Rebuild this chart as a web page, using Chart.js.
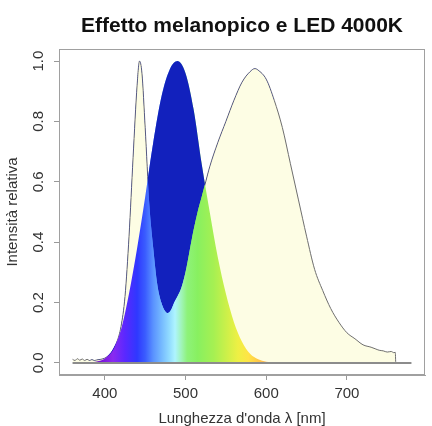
<!DOCTYPE html>
<html>
<head>
<meta charset="utf-8">
<script src="https://cdn.jsdelivr.net/npm/chart.js@4.4.1/dist/chart.umd.min.js"></script>
<style>
  html, body { margin: 0; padding: 0; background: #fff; }
  #wrap { width: 432px; height: 426px; }
</style>
</head>
<body>
<div id="wrap"><canvas id="chart" width="432" height="426"></canvas></div>
<script>
// spettro LED 4000K (nm, intensità relativa)
const ledNm = [360, 363, 366, 369, 372, 375, 378, 381, 384, 387, 390, 395, 400, 405, 410, 415, 420, 425, 430, 435, 440, 443, 446, 450, 455, 460, 465, 470, 475, 478, 482, 486, 490, 495, 500, 505, 510, 515, 520, 525, 530, 540, 550, 560, 570, 580, 586, 590, 600, 610, 620, 630, 640, 650, 660, 670, 680, 690, 700, 710, 720, 730, 735, 740, 745, 750, 755, 758, 760, 760.5];
const ledVal = [0.012, 0.008, 0.014, 0.009, 0.013, 0.008, 0.012, 0.008, 0.011, 0.008, 0.010, 0.012, 0.016, 0.025, 0.040, 0.070, 0.120, 0.220, 0.420, 0.680, 0.920, 1.000, 0.960, 0.780, 0.530, 0.380, 0.260, 0.200, 0.170, 0.165, 0.175, 0.200, 0.220, 0.250, 0.300, 0.370, 0.440, 0.500, 0.550, 0.600, 0.650, 0.730, 0.800, 0.870, 0.930, 0.965, 0.975, 0.970, 0.940, 0.870, 0.780, 0.660, 0.540, 0.420, 0.310, 0.240, 0.180, 0.135, 0.100, 0.080, 0.060, 0.052, 0.047, 0.042, 0.040, 0.036, 0.038, 0.034, 0.035, 0];

// curva di sensibilità melanopica
const melNm = [380, 390, 400, 410, 420, 430, 440, 450, 460, 470, 480, 490, 500, 510, 520, 530, 540, 550, 560, 570, 580, 590, 600, 610];
const melVal = [0.001, 0.005, 0.015, 0.045, 0.110, 0.230, 0.380, 0.550, 0.730, 0.880, 0.970, 1.000, 0.960, 0.840, 0.660, 0.500, 0.350, 0.230, 0.135, 0.070, 0.030, 0.012, 0.004, 0.001];

// linea di base
const baseNm = [360, 780];
const baseVal = [0, 0];

const xTicks = [400, 500, 600, 700];
const yTicks = [0, 0.2, 0.4, 0.6, 0.8, 1.0];

const titolo = 'Effetto melanopico e LED 4000K';

// colori dello spettro visibile (nm -> colore)
const spectrum = [
  [380, '#5a0a9a'], [395, '#7a14d8'], [410, '#8a2af0'], [425, '#5a28ff'],
  [440, '#2f38ff'], [450, '#3a5cff'], [460, '#5a92ff'], [470, '#74b8ff'],
  [480, '#92dcff'], [487, '#aef4ff'], [495, '#a0f4b8'], [502, '#8ef27a'],
  [515, '#88f060'], [535, '#a6f052'], [550, '#caf04a'], [565, '#eef044'],
  [578, '#ffe445'], [590, '#ffc848'], [600, '#ffb858']
];

const toPoints = (xs, ys) => xs.map((x, i) => ({ x, y: ys[i] }));

function rainbowFill(context) {
  const chart = context.chart;
  const area = chart.chartArea;
  if (!area) return '#88f060';
  const sx = chart.scales.x;
  const first = spectrum[0][0];
  const last = spectrum[spectrum.length - 1][0];
  const g = chart.ctx.createLinearGradient(sx.getPixelForValue(first), 0, sx.getPixelForValue(last), 0);
  spectrum.forEach(([nm, col]) => g.addColorStop((nm - first) / (last - first), col));
  return g;
}

// cornice e titolo centrato sul pannello (stile R)
const boxPlugin = {
  id: 'box',
  afterDraw(chart) {
    const { ctx, chartArea: a } = chart;
    ctx.save();
    ctx.strokeStyle = '#a0a0a0';
    ctx.lineWidth = 1;
    ctx.strokeRect(a.left + 0.5, a.top + 0.5, a.right - a.left - 1, a.bottom - a.top - 1);
    ctx.fillStyle = '#111';
    ctx.font = "bold 21px 'Liberation Sans', Arial, sans-serif";
    ctx.textAlign = 'center';
    ctx.textBaseline = 'alphabetic';
    ctx.fillText(titolo, (a.left + a.right) / 2, 31.5);
    ctx.restore();
  }
};

Chart.defaults.font.family = "'Liberation Sans', Arial, sans-serif";

new Chart(document.getElementById('chart'), {
  type: 'line',
  data: {
    datasets: [
      {
        data: toPoints(baseNm, baseVal),
        borderColor: '#8c8c8c',
        borderWidth: 2,
        pointRadius: 0,
        fill: false
      },
      {
        data: toPoints(melNm, melVal),
        borderWidth: 0,
        pointRadius: 0,
        cubicInterpolationMode: 'monotone',
        fill: { target: 3, above: '#1221bd', below: 'rgba(0,0,0,0)' }
      },
      {
        data: toPoints(melNm, melVal),
        borderWidth: 0,
        pointRadius: 0,
        cubicInterpolationMode: 'monotone',
        backgroundColor: rainbowFill,
        fill: 'origin'
      },
      {
        data: toPoints(ledNm, ledVal),
        borderColor: '#6e6e6e',
        borderWidth: 1,
        pointRadius: 0,
        cubicInterpolationMode: 'monotone',
        backgroundColor: '#fdfde4',
        fill: 'origin'
      }
    ]
  },
  options: {
    responsive: false,
    animation: false,
    devicePixelRatio: 1,
    layout: { padding: { left: 0, right: 7, top: 49, bottom: 0 } },
    plugins: {
      legend: { display: false },
      tooltip: { enabled: false },
      title: { display: false }
    },
    scales: {
      x: {
        type: 'linear',
        min: 343.2,
        max: 796.8,
        afterBuildTicks: s => { s.ticks = xTicks.map(v => ({ value: v })); },
        afterFit: s => { s.height = 51; },
        ticks: { color: '#333', font: { size: 15 }, maxRotation: 0, padding: 5 },
        grid: { drawOnChartArea: false, tickLength: 5, color: '#999' },
        border: { color: '#a0a0a0' },
        title: {
          display: true,
          text: "Lunghezza d'onda λ [nm]",
          color: '#333',
          font: { size: 15 },
          padding: { top: 0, bottom: -2 }
        }
      },
      y: {
        type: 'linear',
        min: -0.04,
        max: 1.04,
        afterBuildTicks: s => { s.ticks = yTicks.map(v => ({ value: v })); },
        afterFit: s => { s.width = 59; },
        ticks: {
          color: '#333',
          font: { size: 15 },
          minRotation: 90,
          maxRotation: 90,
          crossAlign: 'center',
          padding: 5,
          callback: v => v.toFixed(1)
        },
        grid: { drawOnChartArea: false, tickLength: 5, color: '#999' },
        border: { color: '#a0a0a0' },
        title: {
          display: true,
          text: 'Intensità relativa',
          color: '#333',
          font: { size: 15 },
          padding: { top: 4, bottom: 0 }
        }
      }
    }
  },
  plugins: [boxPlugin]
});
</script>
</body>
</html>
